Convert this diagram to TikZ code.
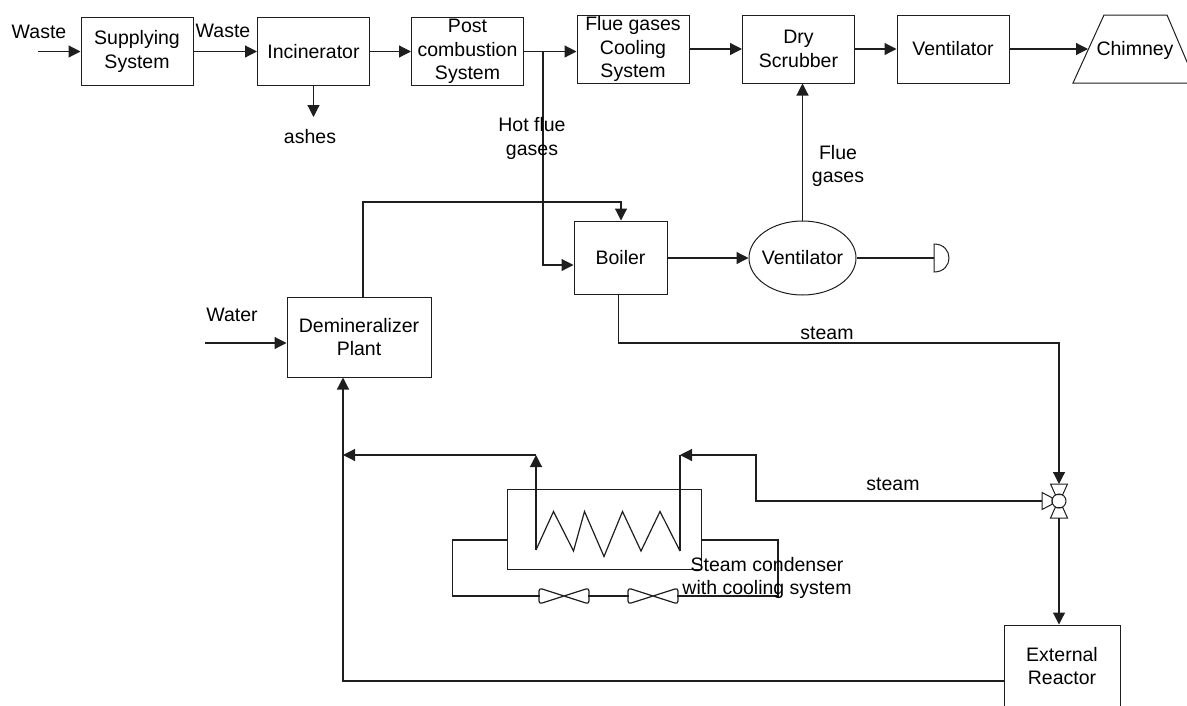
\documentclass[tikz,border=0pt]{standalone}
\usepackage{fontspec}
\setmainfont{Liberation Sans}
\usetikzlibrary{arrows.meta,calc,shapes.geometric}
\definecolor{inkLine}{RGB}{30, 30, 30}
\tikzset{
    plantbox/.style={draw=inkLine, line width=1pt, align=center, inner sep=0pt},
    stdbox/.style={plantbox, minimum width=112pt, minimum height=68pt},
    flow/.style={draw=inkLine, line width=1.2pt, -{Triangle[length=12pt,width=12pt]}},
    pipe/.style={draw=inkLine, line width=1.2pt},
    lbl/.style={align=center, inner sep=0pt},
    fanbody/.style={inner sep=0pt, minimum width=48pt, minimum height=14pt},
    fan/.pic={\draw[pipe, rounded corners=3pt] (-25,-8) -- (25,8) -- (25,-8) -- (-25,8) -- cycle;}
}

\begin{document}
\begin{tikzpicture}[x=1pt, y=-1pt, every node/.append style={font=\fontsize{19.5pt}{23.5pt}\selectfont, text=black}]
    \useasboundingbox (0,0) rectangle (1187,705);

    % top row
    \node[stdbox] (supply) at (137,51.5) {Supplying\\System};
    \node[stdbox] (incin) at (313.5,51.5) {Incinerator};
    \node[stdbox] (post) at (467.5,51.5) {Post\\combustion\\System};
    \node[stdbox] (cooling) at (633,49) {Flue gases\\Cooling\\System};
    \node[stdbox] (scrubber) at (798.5,49) {Dry\\Scrubber};
    \node[stdbox] (venttop) at (953,49) {Ventilator};
    \node[lbl] (chimney) at (1135,50) {Chimney};

    % middle and bottom
    \node[plantbox, minimum width=93pt, minimum height=73pt] (boiler) at (620.5,257.5) {Boiler};
    \node[plantbox, ellipse, inner xsep=-5pt, minimum width=107pt, minimum height=74pt] (ventmid) at (802.5,258) {Ventilator};
    \node[plantbox, minimum width=144pt, minimum height=80pt] (demin) at (359,337) {Demineralizer\\Plant};
    \node[plantbox, minimum width=116pt, minimum height=82pt] (reactor) at (1062,666) {External\\Reactor};
    \node[plantbox, minimum width=194pt, minimum height=80pt] (condenser) at (604,529) {};
    \node[plantbox, circle, minimum size=14pt] (valve) at (1059,501) {};
    \node[fanbody] (fanA) at (564,596) {};
    \node[fanbody] (fanB) at (653,596) {};
    \pic at (fanA) {fan};
    \pic at (fanB) {fan};

    % free ends and bends
    \coordinate (wastein) at (38,51.5);
    \coordinate (ashout) at (313.5,117);
    \coordinate (waterin) at (205,343);
    \coordinate (branch) at (543,51.5);
    \coordinate (chimneyin) at (1088,49);
    \coordinate (coilout) at (536,455);
    \coordinate (coilin) at (680,455);
    \coordinate (coilstart) at (536,550);
    \coordinate (coilend) at (680,551);
    \coordinate (retjoin) at (343,455);
    \coordinate (valvetop) at (1059,484);
    \coordinate (valvebot) at (1059,518);
    \coordinate (valveleft) at (1042,501);
    \coordinate (stack) at (934,258);

    % chimney, valve and stack
    \draw[plantbox] (1073,83) -- (1104,15) -- (1167,15) -- (1196,83) -- cycle;
    \draw[plantbox] (1050.5,484) -- (1067.5,484) -- (valve.60) -- (valve.120) -- cycle;
    \draw[plantbox] (1050.5,518) -- (1067.5,518) -- (valve.-60) -- (valve.-120) -- cycle;
    \draw[plantbox] (1042,492.5) -- (1042,509.5) -- (valve.205) -- (valve.155) -- cycle;
    \draw[plantbox] (934,244) .. controls (954,244) and (954,272) .. (934,272) -- cycle;

    % coil
    \draw[pipe] (coilstart) -- (553.5,511.5) -- (573.5,551) -- (584.5,511.5) -- (604,556.5) -- (622.5,511.5) -- (641,551) -- (660,511.5) -- (coilend);

    % connectors
    \draw[flow] (wastein) -- (supply.west);
    \draw[flow] (supply.east) -- (incin.west);
    \draw[flow] (incin.south) -- (ashout);
    \draw[flow] (incin.east) -- (post.west);
    \draw[flow] (post.east) -- (cooling.west |- post.east);
    \draw[flow] (cooling.east) -- (scrubber.west);
    \draw[flow] (scrubber.east) -- (venttop.west);
    \draw[flow] (venttop.east) -- (chimneyin);
    \draw[flow] (branch) -- (543,265) -- (boiler.west |- 0,265);
    \draw[flow] (demin.north -| 363,0) -- (363,202) -- (621,202) -- (boiler.north -| 621,0);
    \draw[flow] (boiler.east |- ventmid.west) -- (ventmid.west);
    \draw[flow] (ventmid.north) -- (scrubber.south -| ventmid.north);
    \draw[pipe] (ventmid.east) -- (stack);
    \draw[flow] (waterin) -- (demin.west |- waterin);
    \draw[flow] (boiler.south -| 618.5,0) -- (618.5,343) -- (1059,343) -- (valvetop);
    \draw[flow] (valveleft) -- (756,501) -- (756,455) -- (coilin);
    \draw[pipe] (coilend) -- (coilin);
    \draw[flow] (coilstart) -- (coilout);
    \draw[flow] (coilout) -- (retjoin);
    \draw[flow] (valvebot) -- (reactor.north -| valvebot);
    \draw[flow] (reactor.west |- 0,681) -- (343,681) -- (demin.south -| 343,0);
    \draw[pipe] (condenser.west |- 0,540) -- (452.5,540) -- (452.5,596) -- (fanA.west);
    \draw[pipe] (fanA.east) -- (fanB.west);
    \draw[pipe] (fanB.east) -- (778,596) -- (778,540) -- (condenser.east |- 0,540);

    % labels
    \node[lbl] (lwaste) at (39,32) {Waste};
    \node[lbl] (lwastetwo) at (223,31) {Waste};
    \node[lbl] (lashes) at (310,137) {ashes};
    \node[lbl] (lhot) at (532,138.5) {Hot flue\\gases};
    \node[lbl] (lflue) at (838,166) {Flue\\gases};
    \node[lbl] (lwater) at (232,315) {Water};
    \node[lbl] (lsteam) at (827,333) {steam};
    \node[lbl] (lsteamtwo) at (893,484) {steam};
    \node[lbl] (lcond) at (767,578) {Steam condenser\\with cooling system};
\end{tikzpicture}
\end{document}
